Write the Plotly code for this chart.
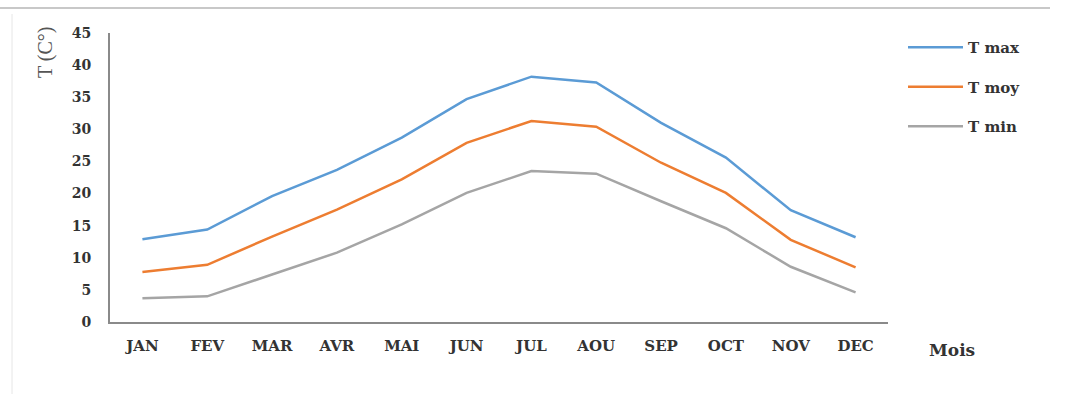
import plotly.graph_objects as go

months = ["JAN", "FEV", "MAR", "AVR", "MAI", "JUN", "JUL", "AOU", "SEP", "OCT", "NOV", "DEC"]
t_max = [12.9, 14.4, 19.6, 23.7, 28.7, 34.7, 38.2, 37.3, 31.0, 25.6, 17.4, 13.2]
t_moy = [7.8, 8.9, 13.3, 17.5, 22.2, 27.9, 31.3, 30.4, 24.8, 20.1, 12.8, 8.5]
t_min = [3.7, 4.0, 7.4, 10.8, 15.2, 20.1, 23.5, 23.1, 18.8, 14.6, 8.6, 4.6]
y_ticks = [0, 5, 10, 15, 20, 25, 30, 35, 40, 45]

W, H = 1065, 394
L, R, T, B = 110, 177, 33, 72
pw, ph = W - L - R, H - T - B

def px(x):
    return (x - L) / pw

def py(y):
    return (H - B - y) / ph

serif = "Liberation Serif, Times New Roman, serif"
wide = "DejaVu Serif, serif"

fig = go.Figure()
series = [("T max", t_max, "#5B9BD5"), ("T moy", t_moy, "#ED7D31"), ("T min", t_min, "#A5A5A5")]
for name, vals, col in series:
    fig.add_trace(go.Scatter(x=months, y=vals, name=name, mode="lines",
                             line=dict(color=col, width=2.5), legendgroup=name))

fig.update_layout(
    width=W, height=H,
    margin=dict(l=L, r=R, t=T, b=B),
    paper_bgcolor="white", plot_bgcolor="white",
    font=dict(family=serif, color="#333333"),
    showlegend=True,
    legend=dict(x=px(903), y=py(31), xanchor="left", yanchor="top",
                tracegroupgap=17, itemwidth=55,
                font=dict(family=wide, size=15, color="#333333", weight="bold"),
                bgcolor="rgba(0,0,0,0)"),
    xaxis=dict(type="category", showgrid=False, zeroline=False,
               showline=True, linecolor="#8a8a8a", linewidth=2,
               ticks="", ticklabelstandoff=9,
               tickfont=dict(family=wide, size=15, color="#333333", weight="bold"),
               range=[-0.5, 11.5]),
    yaxis=dict(range=[0, 45], tickvals=y_ticks, showgrid=False, zeroline=False,
               showline=True, linecolor="#8a8a8a", linewidth=2,
               ticks="", ticklabelstandoff=14,
               tickfont=dict(family=wide, size=14, color="#333333", weight="bold")),
    annotations=[
        dict(text="T (C°)", x=px(45), y=py(52), xref="paper", yref="paper",
             xanchor="center", yanchor="middle",
             textangle=-90, showarrow=False, font=dict(family=serif, size=20, color="#555555")),
        dict(text="<b>Mois</b>", x=px(952), y=py(350), xref="paper", yref="paper",
             xanchor="center", yanchor="middle",
             showarrow=False, font=dict(family=wide, size=17, color="#333333")),
    ],
    shapes=[
        dict(type="line", xref="paper", yref="paper", x0=px(0), x1=px(1050), y0=py(8), y1=py(8),
             line=dict(color="#c8c8c8", width=2)),
        dict(type="line", xref="paper", yref="paper", x0=px(12), x1=px(12), y0=py(14), y1=py(394),
             line=dict(color="#e6e6e6", width=1)),
    ],
)

fig.write_html("out.html")
